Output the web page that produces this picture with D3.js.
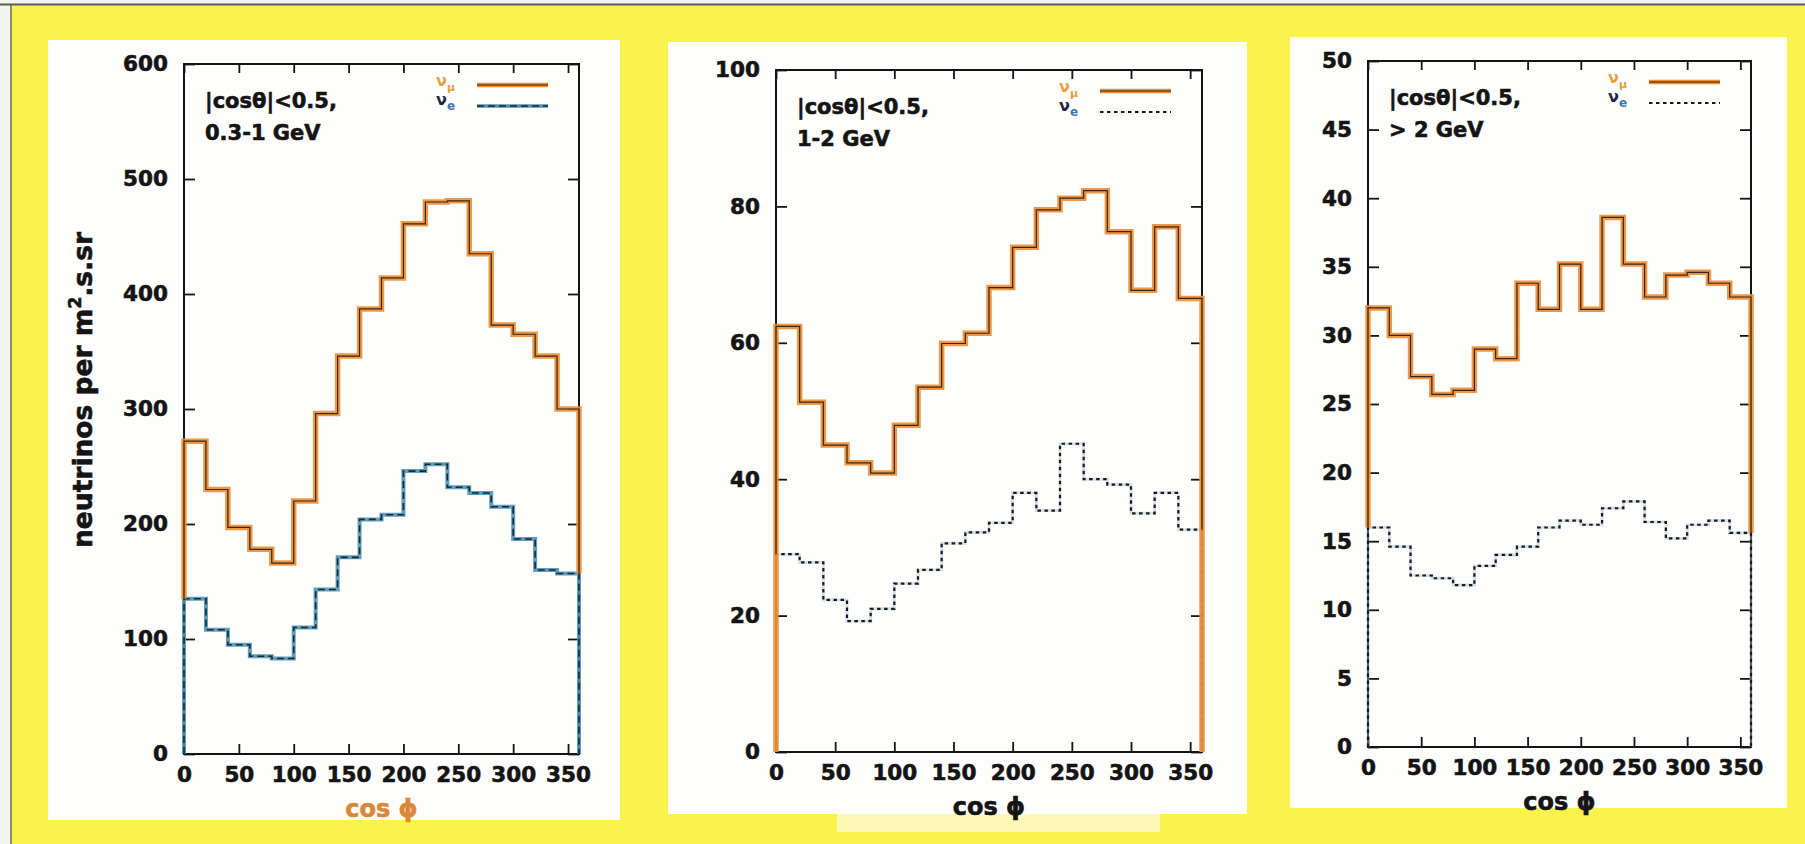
<!DOCTYPE html>
<html>
<head>
<meta charset="utf-8">
<script src="https://cdn.jsdelivr.net/npm/d3@7"></script>
<style>
  html, body { margin: 0; padding: 0; background: #ffffff; }
  svg { display: block; }
  text { font-family: "DejaVu Sans", sans-serif; font-weight: bold; }
</style>
</head>
<body>
<svg id="chart" width="1805" height="844"></svg>
<script>
// ---------------- DATA ----------------
const binEdges = [0, 20, 40, 60, 80, 100, 120, 140, 160, 180, 200, 220, 240, 260, 280, 300, 320, 340, 360];
const xTicks = [0, 50, 100, 150, 200, 250, 300, 350];

// panel 1 : 0.3-1 GeV
const numuLow = [272, 230, 197, 178, 166, 220, 296, 346, 387, 414, 461, 480, 481, 435, 373, 365, 346, 300];
const nueLow  = [135, 108, 95, 85, 83, 110, 143, 171, 204, 208, 246, 252, 232, 227, 215, 187, 160, 157];
const yTicksLow = [0, 100, 200, 300, 400, 500, 600];

// panel 2 : 1-2 GeV
const numuMid = [62.4, 51.3, 45.0, 42.4, 40.9, 47.9, 53.5, 59.9, 61.4, 68.1, 74.0, 79.5, 81.2, 82.3, 76.3, 67.7, 77.0, 66.5];
const nueMid  = [29.0, 27.8, 22.3, 19.2, 21.0, 24.7, 26.7, 30.6, 32.2, 33.6, 38.0, 35.4, 45.2, 40.0, 39.2, 35.0, 38.0, 32.6];
const yTicksMid = [0, 20, 40, 60, 80, 100];

// panel 3 : > 2 GeV
const numuHigh = [32.0, 30.0, 27.0, 25.7, 26.0, 29.0, 28.3, 33.8, 31.9, 35.2, 31.9, 38.6, 35.2, 32.8, 34.4, 34.6, 33.8, 32.8];
const nueHigh  = [16.0, 14.6, 12.5, 12.3, 11.8, 13.2, 14.0, 14.6, 16.0, 16.5, 16.2, 17.4, 17.9, 16.4, 15.2, 16.2, 16.5, 15.6];
const yTicksHigh = [0, 5, 10, 15, 20, 25, 30, 35, 40, 45, 50];

const cutLabels = ["|cosθ|<0.5,", "|cosθ|<0.5,", "|cosθ|<0.5,"];
const energyLabels = ["0.3-1 GeV", "1-2 GeV", "> 2 GeV"];
const xAxisTitle = ["cos ", "ϕ"];
const yAxisTitle = ["neutrinos per m", "2", ".s.sr"];
const legendNames = [["ν", "μ"], ["ν", "e"]];

// ---------------- LAYOUT / STYLE ----------------
const panels = [
  { numu: numuLow, nue: nueLow, yTicks: yTicksLow, cut: cutLabels[0], energy: energyLabels[0],
    frame: { l: 184, r: 579, t: 64, b: 754 }, card: { x: 48, y: 40, w: 572, h: 780 },
    nueStyle: "teal", xLabelColor: "#d9873a", hlFromNue: true, yTitle: true },
  { numu: numuMid, nue: nueMid, yTicks: yTicksMid, cut: cutLabels[1], energy: energyLabels[1],
    frame: { l: 776, r: 1202, t: 70, b: 752 }, card: { x: 668, y: 42, w: 579, h: 772 },
    nueStyle: "dotted", xLabelColor: "#141414", hlFromNue: false, yTitle: false },
  { numu: numuHigh, nue: nueHigh, yTicks: yTicksHigh, cut: cutLabels[2], energy: energyLabels[2],
    frame: { l: 1368, r: 1751, t: 61, b: 747 }, card: { x: 1290, y: 37, w: 497, h: 771 },
    nueStyle: "dotted", xLabelColor: "#141414", hlFromNue: true, yTitle: false }
];

const YELLOW = "#f9f24c";
const ORANGE = "#ec8f38";
const INK = "#141414";

const svg = d3.select("#chart");

// background
svg.append("rect").attr("x", 0).attr("y", 0).attr("width", 1805).attr("height", 844).attr("fill", "#f4f4f0");
svg.append("rect").attr("x", 12).attr("y", 6).attr("width", 1793).attr("height", 838).attr("fill", YELLOW);
svg.append("line").attr("x1", 11).attr("x2", 11).attr("y1", 4).attr("y2", 844)
  .attr("stroke", "#7a7448").attr("stroke-width", 1.6);
svg.append("line").attr("x1", 0).attr("x2", 1805).attr("y1", 4.5).attr("y2", 4.5)
  .attr("stroke", "#5a5a50").attr("stroke-width", 2);

// white cards
panels.forEach(p => {
  svg.append("rect").attr("x", p.card.x).attr("y", p.card.y)
    .attr("width", p.card.w).attr("height", p.card.h).attr("fill", "#fdfdfb");
});
// scan artefact: paler patch under the middle panel
svg.append("rect").attr("x", 837).attr("y", 814).attr("width", 323).attr("height", 18).attr("fill", "#fbf8b8");

function stepPoints(vals, floorStart, floorEnd) {
  const pts = [[binEdges[0], floorStart]];
  vals.forEach((v, i) => pts.push([binEdges[i], v]));
  pts.push([binEdges[binEdges.length - 1], vals[vals.length - 1]]);
  pts.push([binEdges[binEdges.length - 1], floorEnd]);
  return pts;
}

function heavy(sel, color) {
  return sel.attr("stroke", color).attr("stroke-width", 0.6).attr("paint-order", "stroke");
}

panels.forEach((p, pi) => {
  const f = p.frame;
  const x = d3.scaleLinear().domain([0, 360]).range([f.l, f.r]);
  const yMax = p.yTicks[p.yTicks.length - 1];
  const y = d3.scaleLinear().domain([0, yMax]).range([f.b, f.t]);
  const g = svg.append("g");

  // axes (inward ticks on all sides)
  const bottom = g.append("g").attr("transform", `translate(0,${f.b})`)
    .call(d3.axisBottom(x).tickValues(xTicks).tickSize(-10).tickSizeOuter(0).tickPadding(13));
  const top = g.append("g").attr("transform", `translate(0,${f.t})`)
    .call(d3.axisTop(x).tickValues(xTicks).tickSize(-9).tickSizeOuter(0).tickFormat(""));
  const left = g.append("g").attr("transform", `translate(${f.l},0)`)
    .call(d3.axisLeft(y).tickValues(p.yTicks).tickSize(-11).tickSizeOuter(0).tickPadding(16));
  const right = g.append("g").attr("transform", `translate(${f.r},0)`)
    .call(d3.axisRight(y).tickValues(p.yTicks).tickSize(-11).tickSizeOuter(0).tickFormat(""));
  [bottom, top, left, right].forEach(a => {
    a.select(".domain").remove();
    a.selectAll(".tick line").attr("stroke", INK).attr("stroke-width", 1.8);
    heavy(a.selectAll(".tick text").attr("fill", INK).attr("font-size", 21.5)
      .attr("font-family", "DejaVu Sans").attr("font-weight", "bold"), INK);
  });

  // frame
  g.append("rect").attr("x", f.l).attr("y", f.t).attr("width", f.r - f.l).attr("height", f.b - f.t)
    .attr("fill", "none").attr("stroke", INK).attr("stroke-width", 2);

  const line = d3.line().x(d => x(d[0])).y(d => y(d[1])).curve(d3.curveStepAfter);

  // nu_e
  const nuePts = stepPoints(p.nue, 0, 0);
  if (p.nueStyle === "teal") {
    g.append("path").attr("d", line(nuePts)).attr("fill", "none")
      .attr("stroke", "#4e93b6").attr("stroke-width", 4).attr("opacity", 0.9);
    g.append("path").attr("d", line(nuePts)).attr("fill", "none")
      .attr("stroke", "#1c2730").attr("stroke-width", 1.6).attr("stroke-dasharray", "7,4");
  } else {
    g.append("path").attr("d", line(nuePts)).attr("fill", "none")
      .attr("stroke", "#9fc4d3").attr("stroke-width", 3).attr("opacity", 0.45);
    g.append("path").attr("d", line(nuePts)).attr("fill", "none")
      .attr("stroke", "#1a1a1a").attr("stroke-width", 2.2).attr("stroke-dasharray", "3.5,3.5");
  }

  // nu_mu
  const hlStart = p.hlFromNue ? p.nue[0] : 0;
  const hlEnd = p.hlFromNue ? p.nue[p.nue.length - 1] : 0;
  g.append("path").attr("d", line(stepPoints(p.numu, hlStart, hlEnd))).attr("fill", "none")
    .attr("stroke", ORANGE).attr("stroke-width", 5.5).attr("stroke-linejoin", "miter").attr("opacity", 0.92);
  g.append("path").attr("d", line(stepPoints(p.numu, p.nue[0], p.nue[p.nue.length - 1]))).attr("fill", "none")
    .attr("stroke", "#3b2410").attr("stroke-width", 1.2);

  // annotation text
  heavy(g.append("text").attr("x", f.l + 21).attr("y", f.t + 44).attr("font-size", 21).attr("fill", INK).text(p.cut), INK);
  heavy(g.append("text").attr("x", f.l + 21).attr("y", f.t + 76).attr("font-size", 21).attr("fill", INK).text(p.energy), INK);

  // legend
  const lx1 = f.r - 102, lx2 = f.r - 31;
  const ly1 = f.t + 21, ly2 = f.t + 42;
  g.append("line").attr("x1", lx1).attr("x2", lx2).attr("y1", ly1).attr("y2", ly1)
    .attr("stroke", ORANGE).attr("stroke-width", 4.5);
  g.append("line").attr("x1", lx1).attr("x2", lx2).attr("y1", ly1).attr("y2", ly1)
    .attr("stroke", "#3b2410").attr("stroke-width", 1.1);
  if (p.nueStyle === "teal") {
    g.append("line").attr("x1", lx1).attr("x2", lx2).attr("y1", ly2).attr("y2", ly2)
      .attr("stroke", "#4e93b6").attr("stroke-width", 3.5);
    g.append("line").attr("x1", lx1).attr("x2", lx2).attr("y1", ly2).attr("y2", ly2)
      .attr("stroke", "#1c2730").attr("stroke-width", 1.6).attr("stroke-dasharray", "7,4");
  } else {
    g.append("line").attr("x1", lx1).attr("x2", lx2).attr("y1", ly2).attr("y2", ly2)
      .attr("stroke", "#1a1a1a").attr("stroke-width", 2.2).attr("stroke-dasharray", "3.5,3.5");
  }
  const t1 = g.append("text").attr("x", lx1 - 41).attr("y", ly1 + 1).attr("font-size", 16).attr("fill", "#e6a040");
  t1.append("tspan").text(legendNames[0][0]);
  t1.append("tspan").attr("dy", 5).attr("font-size", 11).text(legendNames[0][1]);
  const t2 = g.append("text").attr("x", lx1 - 41).attr("y", ly2 - 1).attr("font-size", 16).attr("fill", "#1e2540");
  t2.append("tspan").text(legendNames[1][0]);
  t2.append("tspan").attr("dy", 5).attr("font-size", 12).attr("fill", "#3f74a8").text(legendNames[1][1]);

  // x title
  const xt = heavy(g.append("text").attr("x", (f.l + f.r) / 2).attr("y", f.b + 63).attr("text-anchor", "middle")
    .attr("font-size", 24).attr("fill", p.xLabelColor), p.xLabelColor);
  xt.append("tspan").text(xAxisTitle[0]);
  xt.append("tspan").text(xAxisTitle[1]);

  // y title
  if (p.yTitle) {
    const yt = heavy(g.append("text").attr("transform", `translate(92,390) rotate(-90)`)
      .attr("text-anchor", "middle").attr("font-size", 26.5).attr("fill", INK), INK);
    yt.append("tspan").text(yAxisTitle[0]);
    yt.append("tspan").attr("dy", -11).attr("font-size", 17).text(yAxisTitle[1]);
    yt.append("tspan").attr("dy", 11).text(yAxisTitle[2]);
  }
});
</script>
</body>
</html>
